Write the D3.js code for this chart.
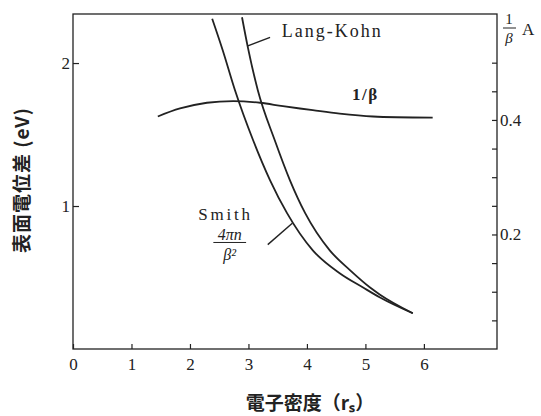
<!DOCTYPE html>
<html>
<head>
<meta charset="utf-8">
<script src="https://cdn.jsdelivr.net/npm/d3@7"></script>
<style>
  body { margin: 0; background: #fff; }
  text { fill: #222; }
</style>
</head>
<body>
<div id="container"></div>
<script>
/* DATA */
const smithX = [2.38, 2.56, 2.77, 3.08, 3.37, 3.66, 4.10, 4.56, 4.96, 5.25, 5.81];
const smithY = [2.31, 2.09, 1.81, 1.46, 1.18, 0.95, 0.69, 0.53, 0.43, 0.36, 0.25];

const langKohnX = [2.89, 2.99, 3.16, 3.45, 3.71, 3.97, 4.39, 4.74, 5.08, 5.25, 5.81];
const langKohnY = [2.32, 2.11, 1.81, 1.46, 1.18, 0.95, 0.69, 0.55, 0.43, 0.38, 0.25];

// 1/beta (right axis, in A)
const invBetaX = [1.45, 1.83, 2.29, 2.74, 3.20, 3.59, 4.10, 4.56, 5.13, 6.15];
const invBetaY = [0.406, 0.420, 0.430, 0.433, 0.430, 0.424, 0.417, 0.411, 0.406, 0.404];

const xTicks = [0, 1, 2, 3, 4, 5, 6];
const leftTicks = [1, 2];
const rightTicks = [0.05, 0.1, 0.15, 0.2, 0.25, 0.3, 0.35, 0.4, 0.45, 0.5];
const rightLabels = [0.2, 0.4];

/* LAYOUT */
const W = 541, H = 416;
const margin = {top: 14, right: 44, bottom: 67, left: 73};
const width = W - margin.left - margin.right,
      height = H - margin.top - margin.bottom;

const svg = d3.select("#container").append("svg")
  .attr("width", W).attr("height", H);
const g = svg.append("g")
  .attr("transform", `translate(${margin.left},${margin.top})`);

const xScale = d3.scaleLinear().domain([0, 7.25]).range([0, width]);
const yScale = d3.scaleLinear().domain([0, 2.343]).range([height, 0]);
const yRight = d3.scaleLinear().domain([0, 0.585]).range([height, 0]);

const ink = "#222";
const serif = "'Liberation Serif', 'DejaVu Serif', serif";
const cjk = "'Noto Sans CJK JP', sans-serif";

// frame
g.append("rect")
  .attr("width", width).attr("height", height)
  .attr("fill", "none").attr("stroke", ink).attr("stroke-width", 1.3);

// bottom axis
const xAxis = g.append("g")
  .attr("transform", `translate(0,${height})`)
  .call(d3.axisBottom(xScale).tickValues(xTicks).tickSize(-5).tickPadding(9).tickFormat(d3.format("d")));
xAxis.select(".domain").remove();
xAxis.selectAll("line").attr("stroke", ink).attr("stroke-width", 1.2);
xAxis.selectAll("text").attr("font-family", serif).attr("font-size", 17).attr("fill", ink);

// left axis
const yAxis = g.append("g")
  .call(d3.axisLeft(yScale).tickValues(leftTicks).tickSize(-6).tickPadding(3).tickFormat(d3.format("d")));
yAxis.select(".domain").remove();
yAxis.selectAll("line").attr("stroke", ink).attr("stroke-width", 1.2);
yAxis.selectAll("text").attr("font-family", serif).attr("font-size", 17).attr("fill", ink);

// right axis
const rAxis = g.append("g")
  .attr("transform", `translate(${width},0)`)
  .call(d3.axisRight(yRight).tickValues(rightTicks).tickSize(-5).tickPadding(3)
    .tickFormat(d => rightLabels.includes(d) ? d3.format(".1f")(d) : ""));
rAxis.select(".domain").remove();
rAxis.selectAll("line").attr("stroke", ink).attr("stroke-width", 1.2);
rAxis.selectAll("text").attr("font-family", serif).attr("font-size", 17).attr("fill", ink);

// curves
const lineL = d3.line().x(d => xScale(d[0])).y(d => yScale(d[1])).curve(d3.curveMonotoneX);
const lineR = d3.line().x(d => xScale(d[0])).y(d => yRight(d[1])).curve(d3.curveCatmullRom);

g.append("path").datum(d3.zip(smithX, smithY)).attr("d", lineL)
  .attr("fill", "none").attr("stroke", ink).attr("stroke-width", 1.8);
g.append("path").datum(d3.zip(langKohnX, langKohnY)).attr("d", lineL)
  .attr("fill", "none").attr("stroke", ink).attr("stroke-width", 1.8);
g.append("path").datum(d3.zip(invBetaX, invBetaY)).attr("d", lineR)
  .attr("fill", "none").attr("stroke", ink).attr("stroke-width", 1.8);

// leader lines
g.append("line")
  .attr("x1", xScale(2.99)).attr("y1", yScale(2.12))
  .attr("x2", xScale(3.37)).attr("y2", yScale(2.18))
  .attr("stroke", ink).attr("stroke-width", 1.4);
g.append("line")
  .attr("x1", xScale(3.33)).attr("y1", yScale(0.73))
  .attr("x2", xScale(3.75)).attr("y2", yScale(0.88))
  .attr("stroke", ink).attr("stroke-width", 1.4);

// labels
g.append("text").attr("x", xScale(3.57)).attr("y", yScale(2.18))
  .attr("font-family", serif).attr("font-size", 18).attr("letter-spacing", 2)
  .text("Lang-Kohn");
g.append("text").attr("x", xScale(4.77)).attr("y", yScale(1.74))
  .attr("font-family", serif).attr("font-size", 17).attr("font-weight", "bold")
  .attr("letter-spacing", 1.5).text("1/β");
g.append("text").attr("x", xScale(2.14)).attr("y", yScale(0.90))
  .attr("font-family", serif).attr("font-size", 17).attr("letter-spacing", 2.8)
  .text("Smith");
// 4πn / β² fraction
g.append("text").attr("x", xScale(2.68)).attr("y", yScale(0.765))
  .attr("text-anchor", "middle").attr("font-family", serif).attr("font-size", 16)
  .attr("font-style", "italic").text("4πn");
g.append("line")
  .attr("x1", xScale(2.4)).attr("x2", xScale(2.96))
  .attr("y1", yScale(0.745)).attr("y2", yScale(0.745))
  .attr("stroke", ink).attr("stroke-width", 1);
g.append("text").attr("x", xScale(2.68)).attr("y", yScale(0.62))
  .attr("text-anchor", "middle").attr("font-family", serif).attr("font-size", 16)
  .attr("font-style", "italic").text("β²");

// right axis unit: 1/β A
const unit = svg.append("g").attr("font-family", serif).attr("font-size", 15);
unit.append("text").attr("x", 509).attr("y", 24).attr("text-anchor", "middle").text("1");
unit.append("line").attr("x1", 503).attr("x2", 516).attr("y1", 28).attr("y2", 28)
  .attr("stroke", ink).attr("stroke-width", 1);
unit.append("text").attr("x", 509).attr("y", 43).attr("text-anchor", "middle")
  .attr("font-style", "italic").text("β");
unit.append("text").attr("x", 522).attr("y", 35).attr("font-size", 17).text("A");

// axis titles
svg.append("text")
  .attr("x", 310).attr("y", 410)
  .attr("text-anchor", "middle")
  .attr("font-family", cjk).attr("font-weight", "bold").attr("font-size", 19)
  .text("電子密度（rₛ）");

svg.append("text")
  .attr("transform", "translate(29,180) rotate(-90)")
  .attr("text-anchor", "middle")
  .attr("font-family", cjk).attr("font-weight", "bold").attr("font-size", 19)
  .attr("letter-spacing", 1)
  .text("表面電位差 (eV)");
</script>
</body>
</html>
